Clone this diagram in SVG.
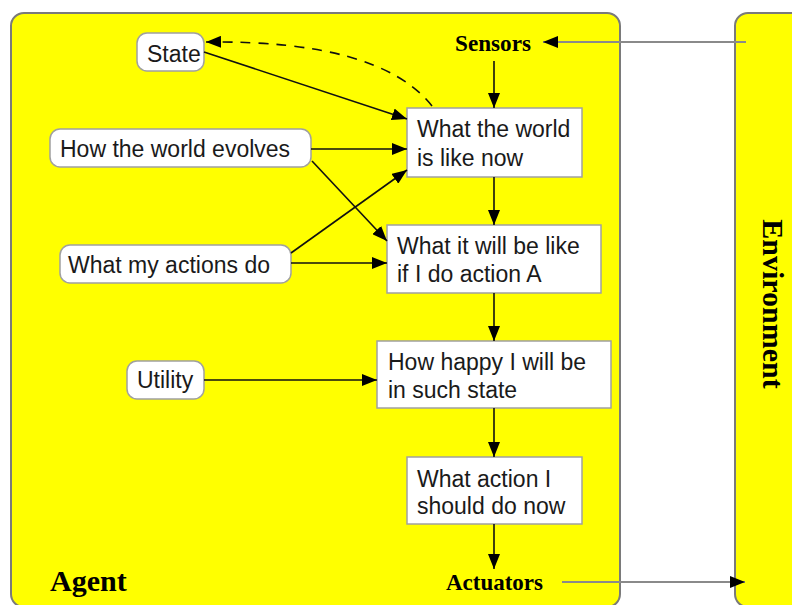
<svg xmlns="http://www.w3.org/2000/svg" width="792" height="605" viewBox="0 0 792 605">
<defs>
<marker id="ah" markerUnits="userSpaceOnUse" markerWidth="16" markerHeight="12" refX="15" refY="6" orient="auto">
<path d="M0,0 L15,6 L0,12 Z" fill="#000"/>
</marker>
<style>
.panel{fill:#ffff00;stroke:#7a7a7a;stroke-width:2}
.rnode{fill:#fff;stroke:#a0a0a0;stroke-width:1.5}
.bnode{fill:#fff;stroke:#a0a0a0;stroke-width:1.5}
.t{font-family:"Liberation Sans",Arial,sans-serif;font-size:23px;fill:#1a1a1a}
.lbl{font-family:"Liberation Serif","Times New Roman",serif;font-weight:bold;fill:#000}
.c{fill:none;stroke:#111;stroke-width:1.6;marker-end:url(#ah)}
.g{fill:none;stroke:#8a8a8a;stroke-width:2;marker-end:url(#ah)}
</style>
</defs>
<rect x="0" y="0" width="792" height="605" fill="#fff"/>
<g id="agent">
<rect class="panel" x="11" y="13" width="609" height="594" rx="13"/>
<text class="lbl" x="50" y="591" font-size="30">Agent</text>
</g>
<g id="environment">
<rect class="panel" x="735" y="13" width="80" height="594" rx="13"/>
<text class="lbl" font-size="30" text-anchor="middle" transform="translate(763,304) rotate(90)">Environment</text>
</g>
<g id="sensors"><text class="lbl" x="455" y="51" font-size="24" textLength="76" lengthAdjust="spacingAndGlyphs">Sensors</text></g>
<g id="actuators"><text class="lbl" x="446" y="590" font-size="23" textLength="97" lengthAdjust="spacingAndGlyphs">Actuators</text></g>
<g id="state"><rect class="rnode" x="137" y="33" width="67" height="38" rx="10"/><text class="t" x="147" y="62">State</text></g>
<g id="evolves"><rect class="rnode" x="50" y="129" width="261" height="38" rx="10"/><text class="t" x="60" y="157">How the world evolves</text></g>
<g id="actions"><rect class="rnode" x="60" y="245" width="231" height="38" rx="10"/><text class="t" x="68" y="273">What my actions do</text></g>
<g id="utility"><rect class="rnode" x="127" y="361" width="77" height="38" rx="10"/><text class="t" x="137" y="388">Utility</text></g>
<g id="now"><rect class="bnode" x="407" y="108" width="175" height="69"/><text class="t" x="417" y="137">What the world</text><text class="t" x="417" y="166">is like now</text></g>
<g id="willbe"><rect class="bnode" x="387" y="225" width="214" height="68"/><text class="t" x="397" y="254">What it will be like</text><text class="t" x="397" y="282">if I do action A</text></g>
<g id="happy"><rect class="bnode" x="377" y="341" width="234" height="67"/><text class="t" x="388" y="370">How happy I will be</text><text class="t" x="388" y="398">in such state</text></g>
<g id="action"><rect class="bnode" x="407" y="457" width="175" height="67"/><text class="t" x="417" y="487">What action I</text><text class="t" x="417" y="514">should do now</text></g>
<g id="connectors">
<line class="g" x1="746" y1="42" x2="543" y2="42"/>
<line class="g" x1="562" y1="582" x2="745" y2="582"/>
<line class="c" x1="494" y1="61" x2="494" y2="108"/>
<line class="c" x1="494" y1="177" x2="494" y2="225"/>
<line class="c" x1="494" y1="293" x2="494" y2="341"/>
<line class="c" x1="494" y1="408" x2="494" y2="457"/>
<line class="c" x1="494" y1="524" x2="494" y2="569"/>
<path class="c" d="M432,106 Q380,40 206,42" stroke-dasharray="10,8" stroke-width="1.8"/>
<line class="c" x1="204" y1="52" x2="407" y2="119"/>
<line class="c" x1="311" y1="149" x2="407" y2="149"/>
<line class="c" x1="312" y1="161" x2="387" y2="241"/>
<line class="c" x1="291" y1="253" x2="407" y2="170"/>
<line class="c" x1="291" y1="263" x2="387" y2="263"/>
<line class="c" x1="204" y1="380" x2="377" y2="380"/>
</g>
</svg>
